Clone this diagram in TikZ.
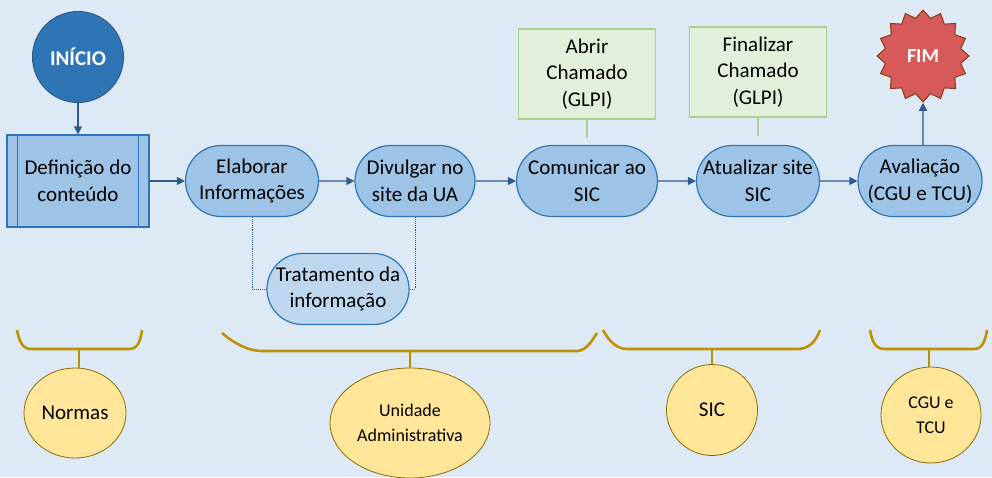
\documentclass[tikz,border=0pt]{standalone}
\usepackage{fontspec}
\setmainfont{Carlito}
\usetikzlibrary{arrows.meta,shapes.geometric,shapes.misc}
\definecolor{fundo}{HTML}{DDEAF6}
\definecolor{azul}{HTML}{9DC3E6}
\definecolor{azulclaro}{HTML}{BDD7EE}
\definecolor{azulborda}{HTML}{2E75B6}
\definecolor{azulseta}{HTML}{2F5B8C}
\definecolor{verde}{HTML}{E2EFDA}
\definecolor{verdeborda}{HTML}{A9D18E}
\definecolor{ouro}{HTML}{BF9000}
\definecolor{amarelo}{HTML}{FFE699}
\definecolor{amareloborda}{HTML}{8A6D00}
\definecolor{vermelho}{HTML}{D65A5A}
\definecolor{vermelhoborda}{HTML}{8B3A12}
\begin{document}
\begin{tikzpicture}[x=1pt,y=-1pt,
  font=\fontsize{21}{26.5}\selectfont,
  etapa/.style={rounded rectangle, draw=azulborda, line width=1.2pt, fill=azul,
    minimum width=133pt, minimum height=71pt, inner sep=0pt, align=center},
  caixa/.style={rectangle, draw=verdeborda, line width=1.2pt, fill=verde,
    minimum width=137pt, minimum height=90pt, inner sep=0pt, align=center},
  ator/.style={ellipse, draw=amareloborda, line width=0.8pt, fill=amarelo,
    inner sep=0pt, align=center},
  fluxo/.style={azulseta, line width=1.2pt, -{Triangle[length=8pt,width=8pt]}},
  chave/.style={ouro, line width=2.6pt},
  ligacao/.style={verdeborda, line width=1.2pt}]

\useasboundingbox (0,0) rectangle (992,477);
\fill[fundo] (0,0) rectangle (992,477);

% inicio e fim
\node[circle, draw=azulseta, line width=1pt, fill=azulborda, minimum size=91pt,
  inner sep=0pt, text=white, font=\fontsize{21}{26}\selectfont\bfseries] (inicio) at (78,57) {INÍCIO};
\node[star, star points=16, star point ratio=1.2, draw=vermelhoborda, line width=1pt,
  fill=vermelho, minimum size=92pt, inner sep=0pt, text=white,
  font=\fontsize{20}{24}\selectfont\bfseries] (fim) at (923,56) {FIM};

% processo predefinido
\node[rectangle, draw=azulborda, line width=1.2pt, fill=azul, minimum width=142pt,
  minimum height=92pt, inner sep=0pt, align=center] (def) at (78,181) {Definição do\\conteúdo};
\draw[azulborda, line width=1.2pt] ([xshift=11pt]def.north west) -- ([xshift=11pt]def.south west);
\draw[azulborda, line width=1.2pt] ([xshift=-11pt]def.north east) -- ([xshift=-11pt]def.south east);

% etapas
\node[etapa] (elab) at (252,181) {Elaborar\\Informações};
\node[etapa, minimum width=120pt] (div) at (415,181) {Divulgar no\\site da UA};
\node[etapa, minimum width=142pt, fill=azulclaro] (trat) at (338,289) {Tratamento da\\informação};
\node[etapa, minimum width=141pt] (com) at (587,181) {Comunicar ao\\SIC};
\node[etapa, minimum width=123pt] (atu) at (758,181) {Atualizar site\\SIC};
\node[etapa, minimum width=124pt] (aval) at (920,181) {Avaliação\\(CGU e TCU)};

% chamados
\node[caixa] (abrir) at (587,74) {Abrir\\Chamado\\(GLPI)};
\node[caixa] (finalizar) at (758,72) {Finalizar\\Chamado\\(GLPI)};
\coordinate (abrirfim) at (587,138);
\coordinate (finalfim) at (758,136);
\draw[ligacao] (abrir.south) -- (abrirfim);
\draw[ligacao] (finalizar.south) -- (finalfim);

% setas
\draw[fluxo] (inicio) -- (def);
\draw[fluxo] (def) -- (elab);
\draw[fluxo] (elab) -- (div);
\draw[fluxo] (div) -- (com);
\draw[fluxo] (com) -- (atu);
\draw[fluxo] (atu) -- (aval);
\draw[fluxo] (aval.north -| fim) -- (fim);
\draw[azulseta, densely dotted, line width=0.9pt] (elab.south) |- (trat.west);
\draw[azulseta, densely dotted, line width=0.9pt] (div.south) |- (trat.east);

% responsaveis
\node[ator, minimum width=102pt, minimum height=90pt] (normas) at (75,413) {Normas};
\node[ator, minimum width=160pt, minimum height=110pt,
  font=\fontsize{18}{25}\selectfont] (ua) at (410,423) {Unidade\\Administrativa};
\node[ator, minimum width=91pt, minimum height=91pt] (sic) at (712,410) {SIC};
\node[ator, minimum width=100pt, minimum height=96pt,
  font=\fontsize{18}{25}\selectfont] (cgu) at (931,415) {CGU e\\TCU};

\draw[chave] (17,330) .. controls (20,345) and (24,349) .. (32,349) -- (128,349)
  .. controls (136,349) and (140,345) .. (142,330);
\draw[chave] (222,333) .. controls (236,345) and (250,351) .. (262,351) -- (578,351)
  .. controls (587,350) and (593,339) .. (597,333);
\draw[chave] (603,330) .. controls (610,343) and (618,349) .. (627,349) -- (798,349)
  .. controls (808,349) and (816,342) .. (820,330);
\draw[chave] (870,330) .. controls (872,342) and (876,349) .. (884,349) -- (974,349)
  .. controls (982,349) and (985,342) .. (987,330);
\coordinate (chavenormas) at (79,349);
\coordinate (chaveua) at (410,351);
\coordinate (chavesic) at (712,349);
\coordinate (chavecgu) at (929,349);
\draw[chave] (chavenormas) -- (chavenormas |- normas.north);
\draw[chave] (chaveua) -- (ua.north);
\draw[chave] (chavesic) -- (sic.north);
\draw[chave] (chavecgu) -- (chavecgu |- cgu.north);
\end{tikzpicture}
\end{document}
